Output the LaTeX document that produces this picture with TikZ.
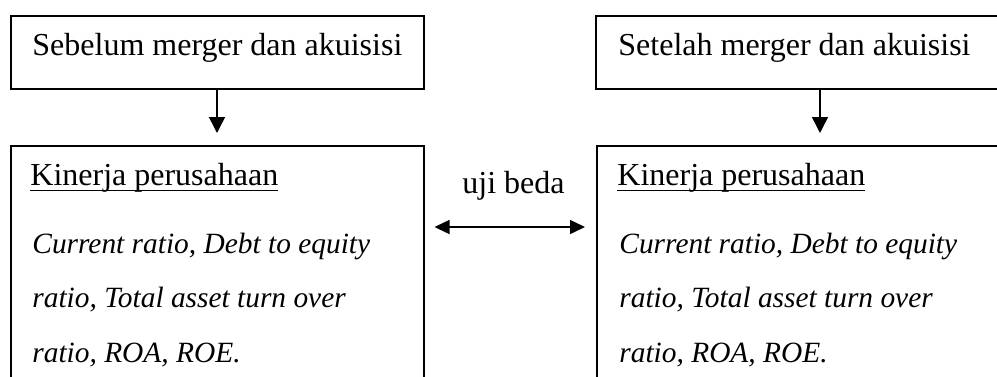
\documentclass[tikz,border=0pt]{standalone}
\usepackage{fontspec}
\setmainfont{Liberation Serif}
\usetikzlibrary{arrows.meta}
\newcommand\myul[1]{\setbox0\hbox{#1}\rlap{\rule[-3.1pt]{\wd0}{0.85pt}}\box0}
\begin{document}
\begin{tikzpicture}[x=0.5pt,y=-0.5pt,
  box/.style={draw, line width=0.75pt, rectangle, inner sep=0pt},
  txt/.style={anchor=base west, inner sep=0pt, font=\fontsize{16}{19}\selectfont},
  itxt/.style={anchor=base west, inner sep=0pt, font=\fontsize{14.7}{18}\selectfont\itshape},
  arr/.style={line width=0.75pt, -{Triangle[width=8pt,length=8pt]}},
  darr/.style={line width=0.75pt, {Triangle[width=7pt,length=7.5pt]}-{Triangle[width=7pt,length=7.5pt]}}]
\useasboundingbox (0,0) rectangle (997,376);
% boxes
\node[box, minimum width=206.5pt, minimum height=36.5pt, anchor=north west] (tl) at (10,15) {};
\node[box, minimum width=210pt, minimum height=36.5pt, anchor=north west] (tr) at (595,15) {};
\node[box, minimum width=206.5pt, minimum height=130pt, anchor=north west] (bl) at (10,145) {};
\node[box, minimum width=210pt, minimum height=130pt, anchor=north west] (br) at (596,145) {};
% texts
\node[txt] (t1) at (32,55) {Sebelum merger dan akuisisi};
\node[txt] (t2) at (618,55) {Setelah merger dan akuisisi};
\node[txt] (k1) at (30,185) {\myul{Kinerja perusahaan}};
\node[itxt] (l1a) at (32,253) {Current ratio, Debt to equity};
\node[itxt] (l1b) at (32,307) {ratio, Total asset turn over};
\node[itxt] (l1c) at (32,362) {ratio, ROA, ROE.};
\node[txt] (k2) at (617,185) {\myul{Kinerja perusahaan}};
\node[itxt] (l2a) at (619,253) {Current ratio, Debt to equity};
\node[itxt] (l2b) at (619,307) {ratio, Total asset turn over};
\node[itxt] (l2c) at (619,362) {ratio, ROA, ROE.};
\node[txt] (ub) at (462,193) {uji beda};
% connectors
\coordinate (xa) at (217,0);
\coordinate (xb) at (820,0);
\coordinate (ya) at (0,227);
\draw[arr, shorten >=6pt] (tl.south -| xa) -- (bl.north -| xa);
\draw[arr, shorten >=6pt] (tr.south -| xb) -- (br.north -| xb);
\draw[darr, shorten <=5pt, shorten >=5.5pt] (bl.east |- ya) -- (br.west |- ya);
\end{tikzpicture}
\end{document}
